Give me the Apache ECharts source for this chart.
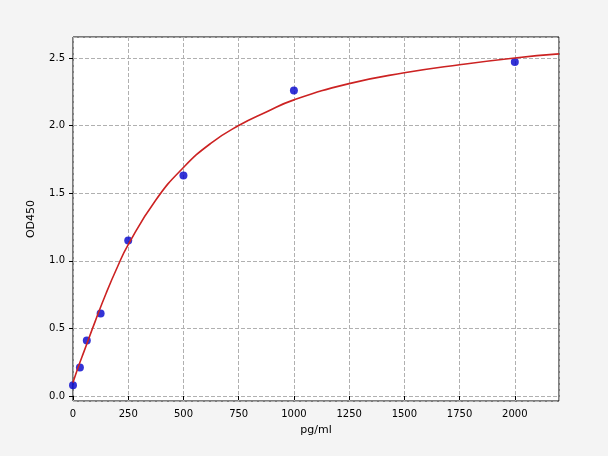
<!DOCTYPE html>
<html>
<head>
<meta charset="utf-8">
<script src="https://cdn.jsdelivr.net/npm/echarts@6/dist/echarts.min.js"></script>
<style>
  html, body { margin: 0; padding: 0; background: #f4f4f4; }
  #chart { width: 608px; height: 456px; }
</style>
</head>
<body>
<div id="chart"></div>
<script>
// standard points
const concX = [0, 31.25, 62.5, 125, 250, 500, 1000, 2000];
const odY = [0.08, 0.21, 0.41, 0.61, 1.15, 1.63, 2.26, 2.47];

// fitted curve
const curveX = [0, 25, 50, 100, 150, 200, 250, 375, 500, 625, 750, 875, 1000, 1250, 1500, 1750, 2000, 2200];
const curveY = [0.1, 0.22, 0.33, 0.55, 0.76, 0.95, 1.12, 1.45, 1.69, 1.87, 2.0, 2.1, 2.19, 2.31, 2.39, 2.45, 2.5, 2.53];

const chart = echarts.init(document.getElementById('chart'));
const font = 'DejaVu Sans';
chart.setOption({
  backgroundColor: '#f4f4f4',
  animation: false,
  grid: {
    left: 73, right: 49, top: 37, bottom: 55,
    show: true, backgroundColor: '#fff', borderColor: '#000', borderWidth: 1
  },
  xAxis: {
    type: 'value', min: 0, max: 2200, interval: 250,
    name: 'pg/ml', nameLocation: 'middle', nameGap: 24,
    nameTextStyle: { color: '#000', fontSize: 11, fontFamily: font },
    axisLine: { show: false },
    axisTick: { show: true, length: 4, lineStyle: { color: '#000' } },
    axisLabel: { color: '#000', fontSize: 10, fontFamily: font, showMaxLabel: false, formatter: v => String(v) },
    splitLine: { lineStyle: { color: '#b0b0b0', type: 'dashed' } }
  },
  yAxis: {
    type: 'value', min: -0.037, max: 2.655,
    name: 'OD450', nameLocation: 'middle', nameGap: 36,
    nameTextStyle: { color: '#000', fontSize: 11, fontFamily: font },
    axisLine: { show: false },
    axisTick: { show: true, length: 4, lineStyle: { color: '#000' } },
    axisLabel: {
      color: '#000', fontSize: 10, fontFamily: font,
      showMinLabel: false, showMaxLabel: false,
      formatter: v => v.toFixed(1)
    },
    splitLine: { lineStyle: { color: '#b0b0b0', type: 'dashed' } }
  },
  series: [
    {
      type: 'line', smooth: true, symbol: 'none',
      data: curveX.map((x, i) => [x, curveY[i]]),
      lineStyle: { color: '#cc2222', width: 1.6 }
    },
    {
      type: 'scatter', symbolSize: 8,
      data: concX.map((x, i) => [x, odY[i]]),
      itemStyle: { color: '#0000cc' }
    }
  ]
});
</script>
</body>
</html>
